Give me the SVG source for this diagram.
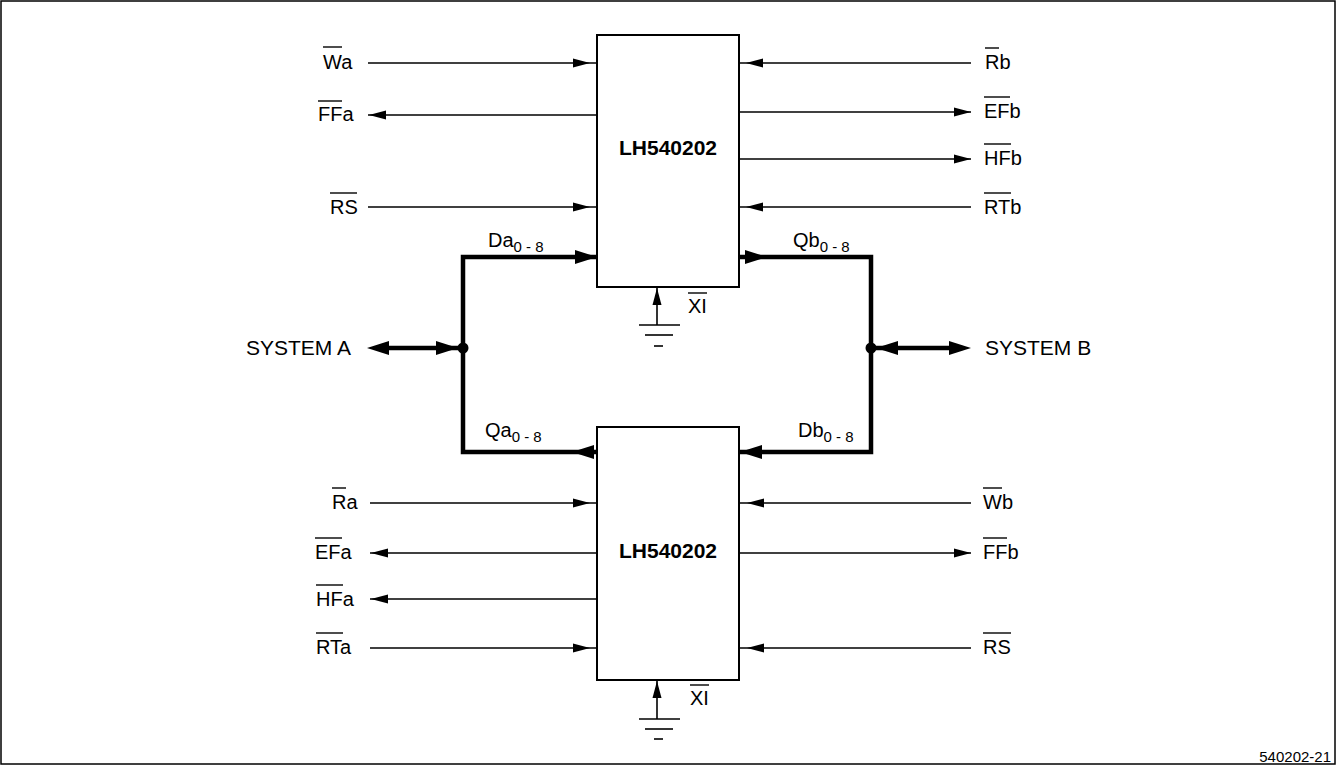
<svg xmlns="http://www.w3.org/2000/svg" xmlns:xlink="http://www.w3.org/1999/xlink" width="1337" height="766" viewBox="0 0 1337 766">
<style>
text{font-family:"Liberation Sans",Arial,sans-serif;fill:#000}
.lbl{font-size:20px}
.sys{font-size:21px}
.sub{font-size:15px}
.chip{font-size:21px;font-weight:bold}
.fig{font-size:15px}
.thin{stroke:#000;stroke-width:1.6;fill:none}
.bus{stroke:#000;stroke-width:4.5;fill:none;stroke-linecap:square}
.ov{stroke:#000;stroke-width:1.4}
.box{fill:#fff;stroke:#000;stroke-width:2}
</style>
<defs>
<path id="ah" d="M0,0 L-17,-4.5 L-17,4.5 Z" fill="#000"/>
<path id="bh" d="M0,0 L-22,-7 L-22,7 Z" fill="#000"/>
</defs>
<rect x="1" y="1" width="1334" height="763" fill="#fff" stroke="#000" stroke-width="1.5"/>

<g id="connectors">
<!-- top chip left -->
<line class="thin" x1="368" y1="63" x2="597" y2="63"/><use xlink:href="#ah" transform="translate(590,63)"/>
<line class="thin" x1="368" y1="115" x2="597" y2="115"/><use xlink:href="#ah" transform="translate(369,115) rotate(180)"/>
<line class="thin" x1="368" y1="207" x2="597" y2="207"/><use xlink:href="#ah" transform="translate(590,207)"/>
<!-- top chip right -->
<line class="thin" x1="739" y1="63" x2="971" y2="63"/><use xlink:href="#ah" transform="translate(746,63) rotate(180)"/>
<line class="thin" x1="739" y1="112" x2="971" y2="112"/><use xlink:href="#ah" transform="translate(971,112)"/>
<line class="thin" x1="739" y1="159" x2="971" y2="159"/><use xlink:href="#ah" transform="translate(971,159)"/>
<line class="thin" x1="739" y1="207" x2="971" y2="207"/><use xlink:href="#ah" transform="translate(746,207) rotate(180)"/>
<!-- bottom chip left -->
<line class="thin" x1="370" y1="503" x2="597" y2="503"/><use xlink:href="#ah" transform="translate(590,503)"/>
<line class="thin" x1="370" y1="553" x2="597" y2="553"/><use xlink:href="#ah" transform="translate(371,553) rotate(180)"/>
<line class="thin" x1="370" y1="599" x2="597" y2="599"/><use xlink:href="#ah" transform="translate(371,599) rotate(180)"/>
<line class="thin" x1="370" y1="648" x2="597" y2="648"/><use xlink:href="#ah" transform="translate(590,648)"/>
<!-- bottom chip right -->
<line class="thin" x1="739" y1="503" x2="971" y2="503"/><use xlink:href="#ah" transform="translate(747,503) rotate(180)"/>
<line class="thin" x1="739" y1="553" x2="971" y2="553"/><use xlink:href="#ah" transform="translate(971,553)"/>
<line class="thin" x1="739" y1="648" x2="971" y2="648"/><use xlink:href="#ah" transform="translate(747,648) rotate(180)"/>
<!-- buses -->
<polyline class="bus" points="597,257 463,257 463,452 597,452"/>
<polyline class="bus" points="739,257 871,257 871,452 739,452"/>
<line class="bus" x1="380" y1="348" x2="463" y2="348"/>
<line class="bus" x1="871" y1="348" x2="960" y2="348"/>
<use xlink:href="#bh" transform="translate(597,257)"/>
<use xlink:href="#bh" transform="translate(767,257)"/>
<use xlink:href="#bh" transform="translate(572,452) rotate(180)"/>
<use xlink:href="#bh" transform="translate(740,452) rotate(180)"/>
<use xlink:href="#bh" transform="translate(367,348) rotate(180)"/>
<use xlink:href="#bh" transform="translate(458,348)"/>
<use xlink:href="#bh" transform="translate(876,348) rotate(180)"/>
<use xlink:href="#bh" transform="translate(971,348)"/>
<circle cx="463" cy="348" r="5.5" fill="#000"/>
<circle cx="871" cy="348" r="5.5" fill="#000"/>
<!-- XI ground top -->
<line class="thin" x1="657" y1="288" x2="657" y2="325"/>
<use xlink:href="#ah" transform="translate(657,288) rotate(-90)"/>
<line class="thin" x1="639" y1="325" x2="680" y2="325"/>
<line class="thin" x1="645" y1="335" x2="673" y2="335"/>
<line class="thin" x1="654" y1="346" x2="663" y2="346"/>
<!-- XI ground bottom -->
<line class="thin" x1="657" y1="680" x2="657" y2="719"/>
<use xlink:href="#ah" transform="translate(657,681) rotate(-90)"/>
<line class="thin" x1="639" y1="719" x2="680" y2="719"/>
<line class="thin" x1="645" y1="729" x2="673" y2="729"/>
<line class="thin" x1="654" y1="739" x2="663" y2="739"/>
</g>

<g id="chip-top">
<rect class="box" x="597" y="35" width="142" height="252"/>
<text class="chip" x="668" y="155" text-anchor="middle">LH540202</text>
</g>
<g id="chip-bottom">
<rect class="box" x="597" y="427" width="142" height="253"/>
<text class="chip" x="668" y="558" text-anchor="middle">LH540202</text>
</g>

<g id="labels-top-left">
<text class="lbl" x="323" y="69">Wa</text><line class="ov" x1="323" y1="47" x2="342" y2="47"/>
<text class="lbl" x="318" y="121">FFa</text><line class="ov" x1="318" y1="101" x2="342" y2="101"/>
<text class="lbl" x="330" y="214">RS</text><line class="ov" x1="330" y1="193" x2="357" y2="193"/>
</g>
<g id="labels-top-right">
<text class="lbl" x="985" y="69">Rb</text><line class="ov" x1="985" y1="48" x2="999" y2="48"/>
<text class="lbl" x="984" y="118">EFb</text><line class="ov" x1="984" y1="97" x2="1010" y2="97"/>
<text class="lbl" x="984" y="165">HFb</text><line class="ov" x1="984" y1="144" x2="1011" y2="144"/>
<text class="lbl" x="984" y="214">RTb</text><line class="ov" x1="984" y1="193" x2="1011" y2="193"/>
</g>
<g id="labels-bottom-left">
<text class="lbl" x="332" y="509">Ra</text><line class="ov" x1="332" y1="488" x2="346" y2="488"/>
<text class="lbl" x="315" y="559">EFa</text><line class="ov" x1="315" y1="538" x2="342" y2="538"/>
<text class="lbl" x="316" y="606">HFa</text><line class="ov" x1="316" y1="585" x2="343" y2="585"/>
<text class="lbl" x="316" y="654">RTa</text><line class="ov" x1="316" y1="633" x2="343" y2="633"/>
</g>
<g id="labels-bottom-right">
<text class="lbl" x="983" y="509">Wb</text><line class="ov" x1="983" y1="488" x2="1002" y2="488"/>
<text class="lbl" x="983" y="559">FFb</text><line class="ov" x1="983" y1="538" x2="1007" y2="538"/>
<text class="lbl" x="983" y="654">RS</text><line class="ov" x1="983" y1="633" x2="1011" y2="633"/>
</g>
<g id="bus-labels">
<text class="lbl" x="488" y="247">Da<tspan class="sub" dy="5">0 - 8</tspan></text>
<text class="lbl" x="793" y="247">Qb<tspan class="sub" dy="5">0 - 8</tspan></text>
<text class="lbl" x="485" y="437">Qa<tspan class="sub" dy="5">0 - 8</tspan></text>
<text class="lbl" x="798" y="437">Db<tspan class="sub" dy="5">0 - 8</tspan></text>
</g>
<g id="system-a"><text class="sys" x="246" y="355">SYSTEM A</text></g>
<g id="system-b"><text class="sys" x="985" y="355">SYSTEM B</text></g>
<g id="xi-top"><text class="lbl" x="688" y="313">XI</text><line class="ov" x1="688" y1="293" x2="707" y2="293"/></g>
<g id="xi-bottom"><text class="lbl" x="690" y="705">XI</text><line class="ov" x1="690" y1="685" x2="709" y2="685"/></g>
<g id="figure-id"><text class="fig" x="1331" y="762" text-anchor="end">540202-21</text></g>
</svg>
